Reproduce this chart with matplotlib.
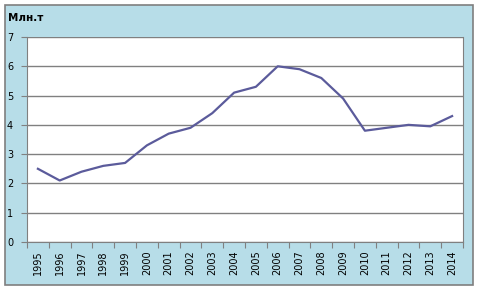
import matplotlib.pyplot as plt
from matplotlib.patches import Rectangle

# Production, million tonnes
years = ['1995', '1996', '1997', '1998', '1999', '2000', '2001', '2002', '2003', '2004',
         '2005', '2006', '2007', '2008', '2009', '2010', '2011', '2012', '2013', '2014']
values = [2.5, 2.1, 2.4, 2.6, 2.7, 3.3, 3.7, 3.9, 4.4, 5.1,
          5.3, 6.0, 5.9, 5.6, 4.9, 3.8, 3.9, 4.0, 3.95, 4.3]
y_ticks = [0, 1, 2, 3, 4, 5, 6, 7]

W, H = 482, 290
fig = plt.figure(figsize=(W / 100, H / 100), dpi=100)
fig.patch.set_facecolor('white')

# light blue chart frame
frame = Rectangle((5 / W, 1 - 285 / H), 468 / W, 280 / H, transform=fig.transFigure,
                  facecolor='#b7dde8', edgecolor='#7f7f7f', linewidth=1.2, zorder=-5)
fig.add_artist(frame)

ax = fig.add_axes([27 / W, 1 - 242 / H, 436 / W, 205 / H])
ax.set_zorder(1)
ax.set_facecolor('white')

x = list(range(len(years)))
ax.plot(x, values, color='#5b5b9b', linewidth=1.6, zorder=3)

ax.set_xlim(-0.5, len(years) - 0.5)
ax.set_ylim(0, 7)
ax.set_yticks(y_ticks)
ax.yaxis.grid(True, color='#808080', linewidth=1)
ax.set_axisbelow(True)

# category ticks at boundaries, labels centred
ax.set_xticks([i - 0.5 for i in range(len(years) + 1)])
ax.set_xticklabels([])
ax.set_xticks(x, minor=True)
ax.set_xticklabels(years, minor=True, rotation=90, fontsize=7)
ax.tick_params(axis='x', which='major', length=4, color='#808080', direction='out')
ax.tick_params(axis='x', which='minor', length=0, pad=6)
ax.tick_params(axis='y', length=4, color='#808080', labelsize=7, pad=6)

for s in ['left', 'bottom', 'top', 'right']:
    ax.spines[s].set_color('#808080')
ax.spines['top'].set_visible(False)
ax.spines['right'].set_linewidth(0.8)

fig.text(8 / W, 1 - 18 / H, 'Млн.т', fontsize=7.5, fontweight='bold', va='center', ha='left')

fig.savefig('out.png', dpi=100)
